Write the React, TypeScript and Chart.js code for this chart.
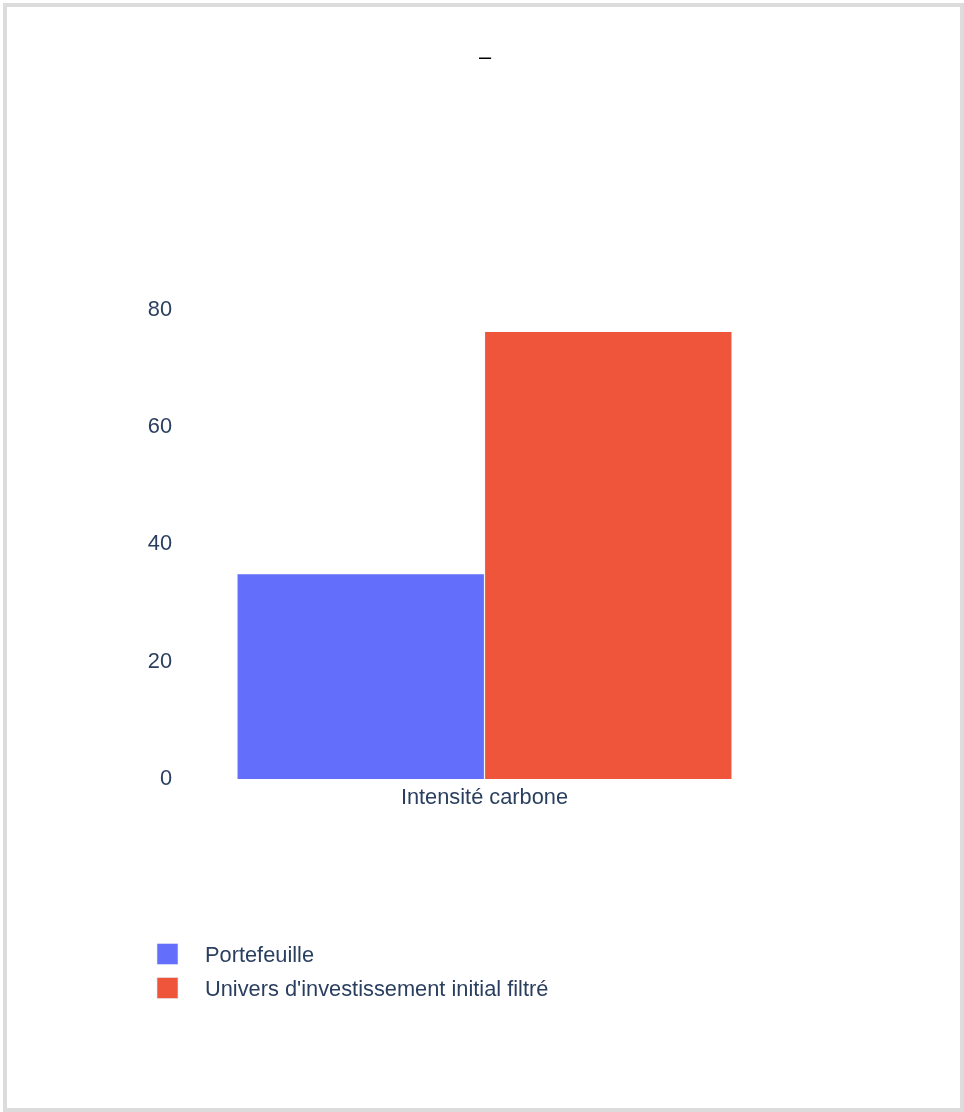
import React, { useEffect, useRef } from "react";
import { Chart, registerables } from "chart.js";

Chart.register(...registerables);

// Chart data
const categories: string[] = ["Intensité carbone"];
const seriesNames: string[] = ["Portefeuille", "Univers d'investissement initial filtré"];
const portefeuilleValues: number[] = [35.0];
const universValues: number[] = [76.3];
const seriesColors: string[] = ["#636efa", "#ef553b"];
const yTicks: number[] = [0, 20, 40, 60, 80];
const chartTitle = "–";

const FONT_FAMILY = '"Liberation Sans", Arial, Helvetica, sans-serif';
const FONT_SIZE = 21.8;
const TEXT_COLOR = "#2a3f5f";

// Vertical legend drawn under the plot, one row per dataset
const stackedLegend = {
  id: "stackedLegend",
  afterDraw(chart: Chart) {
    const ctx = chart.ctx;
    const x0 = 157;
    const y0 = 954;
    const rowGap = 34;
    const box = 21;
    ctx.save();
    ctx.font = `${FONT_SIZE}px ${FONT_FAMILY}`;
    ctx.textBaseline = "middle";
    ctx.textAlign = "left";
    chart.data.datasets.forEach((ds: any, i: number) => {
      const cy = y0 + i * rowGap;
      ctx.fillStyle = ds.backgroundColor as string;
      ctx.fillRect(x0, cy - box / 2, box, box);
      ctx.strokeStyle = "#e5ecf6";
      ctx.lineWidth = 0.6;
      ctx.strokeRect(x0, cy - box / 2, box, box);
      ctx.fillStyle = TEXT_COLOR;
      ctx.fillText(String(ds.label), 205, cy + 2);
    });
    ctx.restore();
  },
};

export default function App() {
  const canvasRef = useRef<HTMLCanvasElement | null>(null);

  useEffect(() => {
    if (!canvasRef.current) return;
    const chart = new Chart(canvasRef.current, {
      type: "bar",
      data: {
        labels: categories,
        datasets: [
          {
            label: seriesNames[0],
            data: portefeuilleValues,
            backgroundColor: seriesColors[0],
            borderColor: "#e5ecf6",
            borderWidth: 0.6,
            categoryPercentage: 0.8,
            barPercentage: 1.0,
          },
          {
            label: seriesNames[1],
            data: universValues,
            backgroundColor: seriesColors[1],
            borderColor: "#e5ecf6",
            borderWidth: 0.6,
            categoryPercentage: 0.8,
            barPercentage: 1.0,
          },
        ],
      },
      options: {
        animation: false,
        responsive: false,
        maintainAspectRatio: false,
        layout: {
          padding: { left: 6, right: 0, top: 0, bottom: 291 },
        },
        plugins: {
          legend: { display: false },
          tooltip: { enabled: false },
          title: {
            display: true,
            text: chartTitle,
            color: "#000",
            font: { family: FONT_FAMILY, size: FONT_SIZE, weight: "normal" },
            padding: { top: 45, bottom: 238.6 },
          },
        },
        scales: {
          x: {
            grid: { display: false, drawTicks: false },
            border: { display: false },
            ticks: {
              color: TEXT_COLOR,
              font: { family: FONT_FAMILY, size: FONT_SIZE },
              padding: 6,
            },
            afterFit: (scale: any) => {
              scale.height = 42;
            },
          },
          y: {
            min: 0,
            max: 80,
            grid: { display: false, drawTicks: false },
            border: { display: false },
            afterBuildTicks: (scale: any) => {
              scale.ticks = yTicks.map((v) => ({ value: v }));
            },
            ticks: {
              color: TEXT_COLOR,
              font: { family: FONT_FAMILY, size: FONT_SIZE },
              padding: 3,
            },
            afterFit: (scale: any) => {
              scale.width = 169.1;
            },
          },
          // empty right-hand margin axis, keeps the plot area symmetric under the title
          yRight: {
            position: "right",
            min: 0,
            max: 80,
            grid: { display: false, drawTicks: false },
            border: { display: false },
            ticks: { display: false },
            afterFit: (scale: any) => {
              scale.width = 170.1;
            },
          },
        },
      },
      plugins: [stackedLegend],
    });
    return () => chart.destroy();
  }, []);

  return (
    <div style={{ position: "absolute", left: 0, top: 0, width: 964, height: 1112, background: "#fff" }}>
      <canvas ref={canvasRef} width={964} height={1112} style={{ display: "block", width: 964, height: 1112 }} />
      <div
        style={{
          position: "absolute",
          left: 3,
          top: 3,
          width: 961,
          height: 1109,
          border: "4px solid #dcdcdc",
          boxSizing: "border-box",
          pointerEvents: "none",
        }}
      />
    </div>
  );
}
